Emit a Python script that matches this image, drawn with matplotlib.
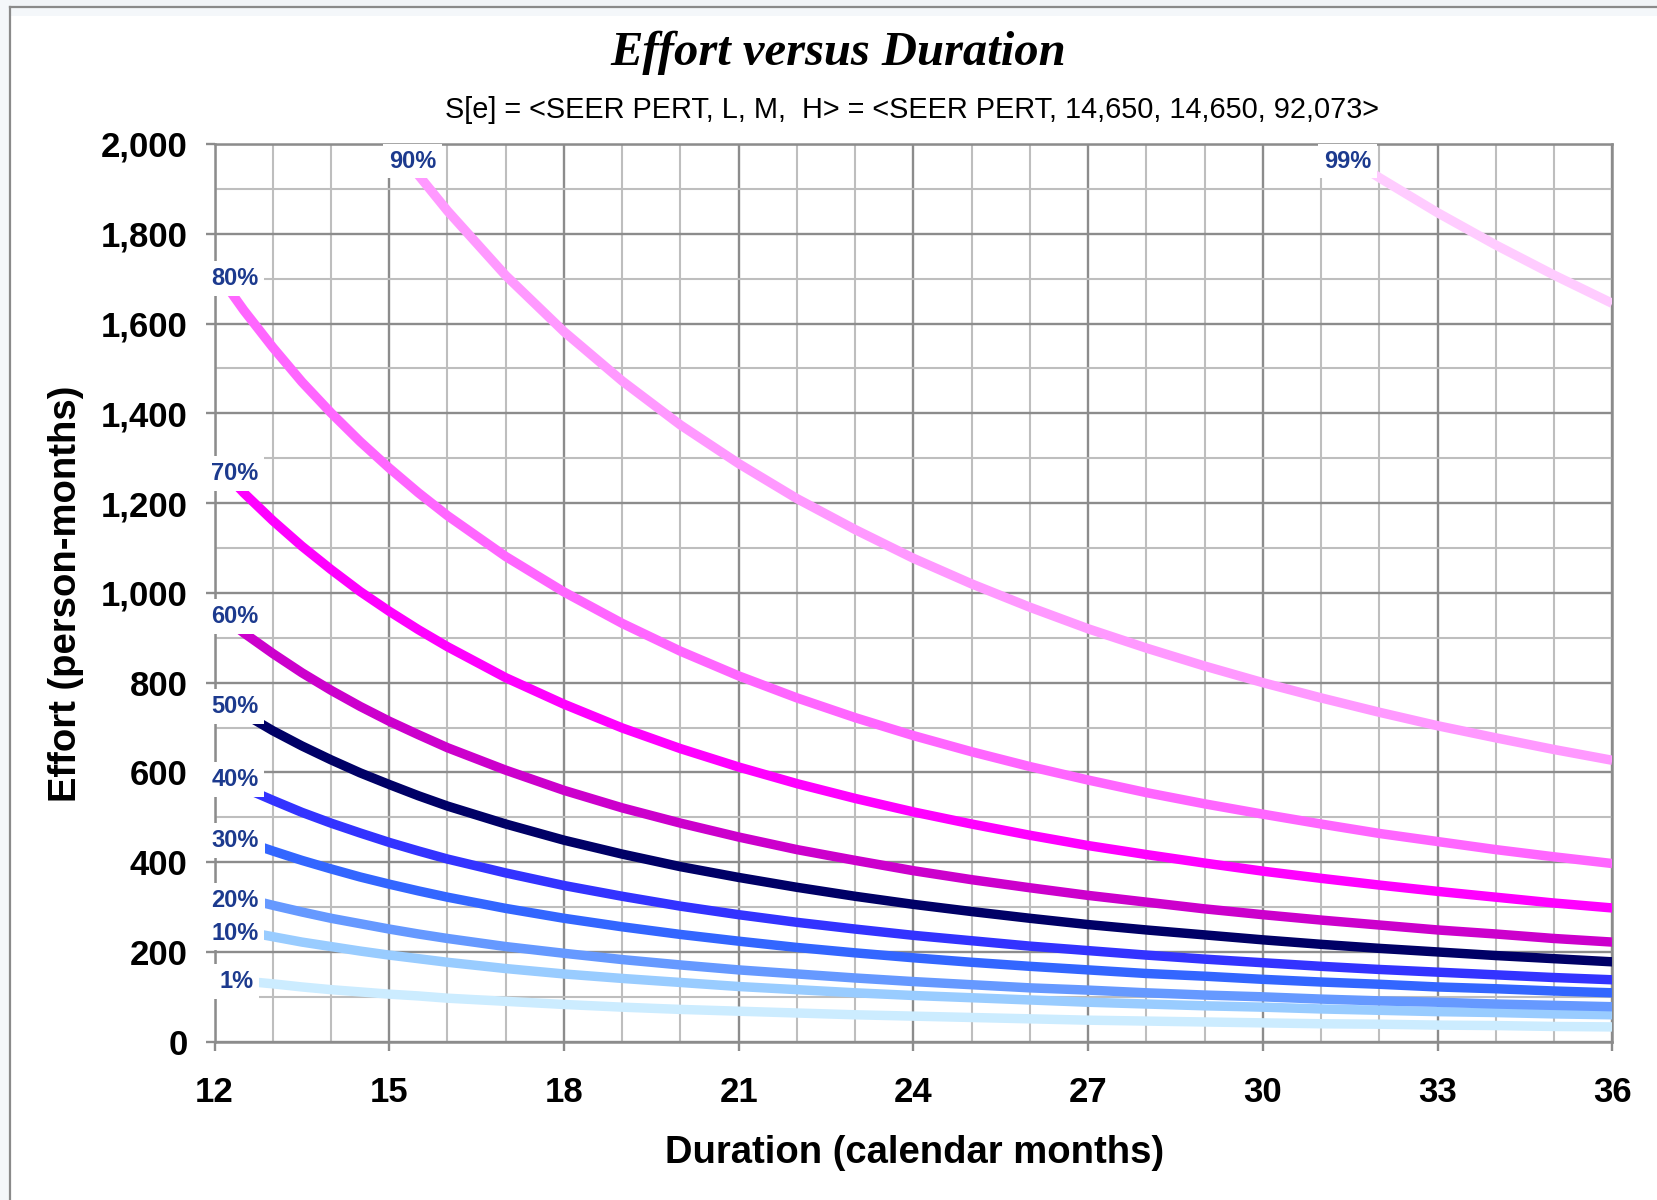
import matplotlib
matplotlib.use("Agg")
import matplotlib.pyplot as plt
from matplotlib.patches import Rectangle
from matplotlib.lines import Line2D
from matplotlib.ticker import FuncFormatter

# 数据：横轴为工期（月），每条曲线为一个百分位的工作量
months = [12, 12.5, 13, 13.5, 14, 14.5, 15, 15.5, 16] + list(range(17, 37))
months_90 = [15, 15.5, 16] + list(range(17, 37))
months_99 = list(range(31, 37))

p01 = [143, 135, 129, 122, 116, 111, 106, 102, 97, 90, 83, 77, 72, 68, 64, 60, 57, 54, 51, 48, 46, 44, 42, 40, 39, 37, 36, 34, 33]
p10 = [260, 246, 234, 222, 212, 202, 193, 185, 177, 163, 151, 141, 132, 123, 116, 109, 103, 98, 93, 88, 84, 80, 77, 73, 70, 67, 65, 62, 60]
p20 = [338, 320, 304, 289, 275, 263, 251, 240, 230, 212, 197, 183, 171, 160, 151, 142, 134, 127, 120, 115, 109, 104, 100, 95, 91, 88, 84, 81, 78]
p30 = [473, 447, 425, 404, 385, 367, 351, 336, 322, 297, 275, 256, 239, 224, 210, 198, 187, 177, 168, 160, 152, 146, 139, 133, 128, 122, 118, 113, 109]
p40 = [598, 566, 538, 511, 487, 465, 444, 425, 407, 376, 348, 324, 302, 283, 266, 251, 237, 225, 213, 203, 193, 184, 176, 168, 161, 155, 149, 143, 138]
p50 = [772, 731, 693, 659, 628, 599, 573, 548, 525, 485, 449, 418, 390, 366, 344, 324, 306, 290, 275, 261, 249, 238, 227, 217, 208, 200, 192, 185, 178]
p60 = [962, 911, 865, 822, 783, 747, 714, 684, 655, 605, 560, 521, 487, 456, 428, 404, 381, 361, 343, 326, 311, 296, 283, 271, 260, 249, 240, 230, 222]
p70 = [1292, 1223, 1161, 1104, 1052, 1003, 959, 918, 880, 811, 752, 699, 653, 612, 575, 542, 512, 485, 460, 437, 417, 398, 380, 364, 349, 335, 322, 309, 298]
p80 = [1721, 1630, 1547, 1470, 1401, 1337, 1278, 1223, 1172, 1081, 1002, 932, 870, 815, 766, 722, 682, 646, 613, 583, 555, 530, 507, 485, 464, 446, 428, 412, 397]
p90 = [2018, 1931, 1851, 1707, 1582, 1472, 1374, 1288, 1210, 1141, 1077, 1020, 968, 920, 877, 837, 800, 766, 734, 704, 677, 651, 627]
p99 = [2009, 1925, 1847, 1775, 1708, 1645]

labels = ["1%", "10%", "20%", "30%", "40%", "50%", "60%", "70%", "80%", "90%", "99%"]
colors = ["#CCECFF", "#99CCFF", "#6699FF", "#3366FF", "#3333FF", "#000066",
          "#CC00CC", "#FF00FF", "#FF66FF", "#FF99FF", "#FFCCFF"]
series = [(months, p01), (months, p10), (months, p20), (months, p30), (months, p40),
          (months, p50), (months, p60), (months, p70), (months, p80),
          (months_90, p90), (months_99, p99)]
# 标签位置 (x, y)
label_pos = [(12.37, 134), (12.35, 242), (12.35, 315), (12.35, 449), (12.35, 584),
             (12.35, 746), (12.35, 948), (12.35, 1266), (12.35, 1701),
             (15.40, 1962), (31.46, 1962)]

fig = plt.figure(figsize=(16.58, 12), dpi=100)
fig.patch.set_facecolor("white")

# 外框
fig.add_artist(Rectangle((0, 1 - 6 / 1200), 1, 6 / 1200, transform=fig.transFigure,
                         facecolor="#F1F4F7", edgecolor="none"))
fig.add_artist(Rectangle((10 / 1658, 1 - 16 / 1200), 1, 10 / 1200, transform=fig.transFigure,
                         facecolor="#F4F7FA", edgecolor="none"))
fig.add_artist(Rectangle((0, 0), 10 / 1658, 1, transform=fig.transFigure,
                         facecolor="#F4F7FA", edgecolor="none"))
fig.add_artist(Line2D([10.5 / 1658, 10.5 / 1658], [0, 1 - 6.5 / 1200], transform=fig.transFigure,
                      color="#8A8A8A", lw=1.6))
fig.add_artist(Line2D([10.5 / 1658, 1], [1 - 6.5 / 1200, 1 - 6.5 / 1200], transform=fig.transFigure,
                      color="#8A8A8A", lw=1.6))

ax = fig.add_axes([0.1294, 0.1319, 0.9724 - 0.1294, 0.88 - 0.1319])
ax.set_xlim(12, 36)
ax.set_ylim(0, 2000)

ax.set_xticks(range(12, 37, 3))
ax.set_xticks(range(12, 37, 1), minor=True)
ax.set_yticks(range(0, 2001, 200))
ax.set_yticks(range(0, 2001, 100), minor=True)
ax.yaxis.set_major_formatter(FuncFormatter(lambda v, p: f"{int(v):,}"))

ax.set_axisbelow(True)
ax.grid(which="minor", color="#BEBEBE", lw=1.5)
ax.grid(which="major", color="#8C8C8C", lw=1.7)
ax.tick_params(which="minor", length=0)
ax.tick_params(which="major", length=6.5, width=1.7, color="#8C8C8C")
ax.tick_params(axis="y", pad=13)
ax.tick_params(axis="x", pad=18.5)
for sp in ax.spines.values():
    sp.set_color("#8C8C8C")
    sp.set_linewidth(1.8)

for lab in ax.get_xticklabels() + ax.get_yticklabels():
    lab.set_fontfamily("Liberation Sans")
    lab.set_fontweight("bold")
    lab.set_fontsize(25)

for (xs, ys), c in zip(series, colors):
    ax.plot(xs, ys, color=c, lw=6.8, solid_capstyle="butt", solid_joinstyle="round", zorder=3)

for (lx, ly), s in zip(label_pos, labels):
    ax.text(lx, ly, s, ha="center", va="center", fontsize=17, fontweight="bold",
            family="Liberation Sans", color="#1C3A8E", zorder=6, clip_on=False,
            bbox=dict(facecolor="white", edgecolor="none", boxstyle="square,pad=0.25"))

fig.text(0.5057, 0.956, "Effort versus Duration", ha="center", va="center",
         family="Liberation Serif", fontweight="bold", fontstyle="italic", fontsize=35)
fig.text(0.5498, 0.9083, "S[e] = <SEER PERT, L, M,  H> = <SEER PERT, 14,650, 14,650, 92,073>",
         ha="center", va="center", family="Liberation Sans", fontsize=20.8)
fig.text(0.0396, 0.505, "Effort (person-months)", rotation=90, ha="center", va="center",
         family="Liberation Sans", fontweight="bold", fontsize=27.5)
fig.text(0.5516, 0.0395, "Duration (calendar months)", ha="center", va="center",
         family="Liberation Sans", fontweight="bold", fontsize=27.5)

fig.savefig("out.png", dpi=100)
